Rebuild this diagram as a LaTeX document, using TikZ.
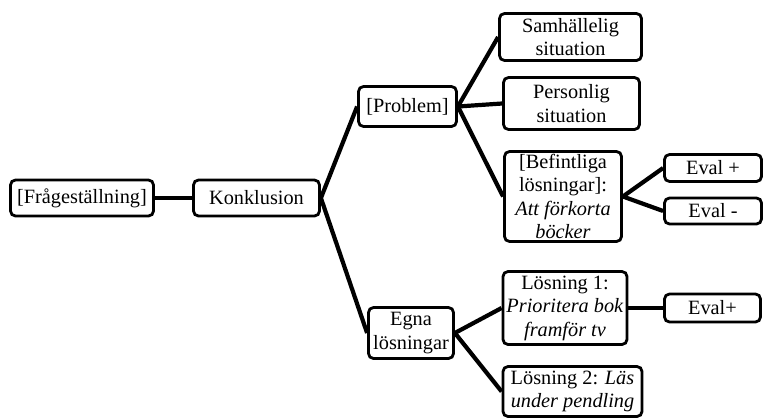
\documentclass[tikz,border=0pt]{standalone}
\usepackage{fontspec}
\setmainfont{Liberation Serif}
\colorlet{linecol}{black}

\begin{document}
\begin{tikzpicture}[x=1pt, y=-1pt,
	    every node/.style={font=\fontsize{20.3}{23.5}\selectfont},
	    box/.style={draw=linecol, line width=2.8pt, rounded corners=5pt, align=center, inner sep=0pt, fill=white},
	    link/.style={draw=linecol, line width=4.2pt}]
	\useasboundingbox (0,0) rectangle (764,418);

	% left part
	\node[box, minimum width=143, minimum height=36] (fraga) at (82,198) {[Frågeställning]};
	\node[box, minimum width=126, minimum height=36] (konk) at (256.5,198) {Konklusion};

	% middle column
	\node[box, minimum width=98, minimum height=40] (prob) at (407.5,106.5) {[Problem]};
	\node[box, minimum width=85, minimum height=51] (egna) at (411,333) {Egna\\lösningar};

	% problem branch
	\node[box, minimum width=142, minimum height=47] (samh) at (570.5,37) {Samhällelig\\situation};
	\node[box, minimum width=136, minimum height=52] (pers) at (571.5,103.5) {Personlig\\situation};
	\node[box, minimum width=117, minimum height=90] (bef) at (563,196.5) {[Befintliga\\lösningar]:\\\textit{Att förkorta}\\\textit{böcker}};
	\node[box, minimum width=97, minimum height=27] (evalp) at (713,168) {Eval +};
	\node[box, minimum width=97, minimum height=26] (evalm) at (713,211) {Eval -};

	% own solutions branch
	\node[box, minimum width=124, minimum height=73] (los1) at (565,308) {Lösning 1:\\\textit{Prioritera bok}\\\textit{framför tv}};
	\node[box, minimum width=139, minimum height=50] (los2) at (572.5,391.5) {Lösning 2: \textit{Läs}\\\textit{under pendling}};
	\node[box, minimum width=96, minimum height=28] (evalb) at (712.5,308) {Eval+};

	% connectors
	\draw[link] (fraga.east) -- (konk.west);
	\draw[link] (konk.east) -- (prob.west);
	\draw[link] (konk.east) -- (egna.west);
	\draw[link] (prob.east) -- (samh.west);
	\draw[link] (prob.east) -- (pers.west);
	\draw[link] (prob.east) -- (bef.west);
	\draw[link] (bef.east) -- (evalp.west);
	\draw[link] (bef.east) -- (evalm.west);
	\draw[link] (egna.east) -- (los1.west);
	\draw[link] (egna.east) -- (los2.west);
	\draw[link] (los1.east) -- (evalb.west);
\end{tikzpicture}
\end{document}
